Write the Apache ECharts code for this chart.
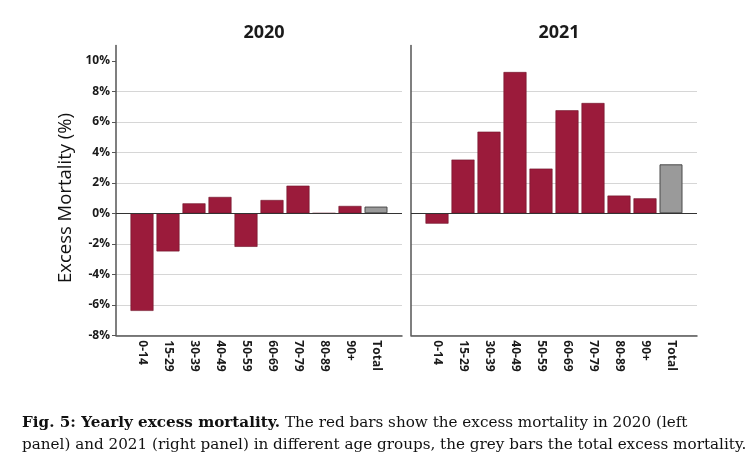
<!DOCTYPE html>
<html>
<head>
<meta charset="utf-8">
<script src="https://cdn.jsdelivr.net/npm/echarts@6/dist/echarts.min.js"></script>
<style>
html,body{margin:0;padding:0;background:#fff;}
#chart{width:746px;height:462px;}
</style>
</head>
<body>
<div id="chart"></div>
<script>
// ---- data ----
var ageGroups = ['0-14', '15-29', '30-39', '40-49', '50-59', '60-69', '70-79', '80-89', '90+', 'Total'];
var excess2020 = [-6.4, -2.5, 0.65, 1.07, -2.2, 0.87, 1.81, 0.0, 0.48, 0.44];
var excess2021 = [-0.68, 3.52, 5.35, 9.26, 2.93, 6.75, 7.23, 1.16, 0.98, 3.21];
var panelTitles = ['2020', '2021'];
var yTicks = [-8, -6, -4, -2, 0, 2, 4, 6, 8, 10];
var yAxisTitle = 'Excess Mortality (%)';
var captionBold = 'Fig. 5: Yearly excess mortality.';
var captionLine1 = ' The red bars show the excess mortality in 2020 (left';
var captionLine2 = 'panel) and 2021 (right panel) in different age groups, the grey bars the total excess mortality.';

// ---- build ----
var RED = '#9b1b3b', GREY = '#9a9a9a';
var cats = [''].concat(ageGroups).concat(['']);
function seriesData(vals) {
  var d = [null];
  vals.forEach(function (v, i) {
    if (ageGroups[i] === 'Total') {
      d.push({ value: v, itemStyle: { color: GREY, borderColor: '#4a4a4a', borderWidth: 1 } });
    } else {
      d.push(v);
    }
  });
  d.push(null);
  return d;
}
var FONT = '"Open Sans", "Noto Sans", sans-serif';
var CAPFONT = '"DejaVu Serif", serif';
var CAPSIZE = 15.2;
var gridTop = 45.5, gridBottom = 462 - 335.3;
var grids = [
  { left: 116, width: 286, top: gridTop, bottom: gridBottom },
  { left: 411, width: 286, top: gridTop, bottom: gridBottom }
];
var xAxes = [0, 1].map(function (i) {
  return {
    type: 'category', gridIndex: i, data: cats, boundaryGap: false,
    axisLine: { onZero: false, lineStyle: { color: '#555', width: 1.5 } },
    axisTick: { show: false },
    axisLabel: { interval: 0, rotate: -90, margin: 5, color: '#1a1a1a', fontFamily: FONT, fontWeight: 'bold', fontSize: 12 },
    splitLine: { show: false }
  };
});
var yAxes = [0, 1].map(function (i) {
  return {
    type: 'value', gridIndex: i, min: -8, max: 11, interval: 2,
    axisLine: { show: true, lineStyle: { color: '#555', width: 1.5 } },
    axisTick: { show: i === 0, length: 4, lineStyle: { color: '#555' }, customValues: yTicks },
    axisLabel: {
      show: i === 0, margin: 6, color: '#1a1a1a', fontFamily: FONT, fontWeight: 'bold', fontSize: 12,
      customValues: yTicks,
      formatter: function (v) { return v + '%'; }
    },
    splitLine: { show: true, showMaxLine: false, lineStyle: { color: '#d6d6d6', width: 1 } }
  };
});
var series = [excess2020, excess2021].map(function (vals, i) {
  return {
    type: 'bar', xAxisIndex: i, yAxisIndex: i, data: seriesData(vals), barWidth: 23,
    itemStyle: { color: RED, borderColor: '#6e1229', borderWidth: 0.6 },
    silent: true,
    markLine: {
      silent: true, symbol: ['none', 'none'], label: { show: false },
      lineStyle: { color: '#333', type: 'solid', width: 1.2 },
      data: [{ yAxis: 0 }]
    }
  };
});
var option = {
  animation: false,
  backgroundColor: '#fff',
  title: [
    { text: panelTitles[0], left: 259, top: 19, textAlign: 'center', textStyle: { fontFamily: FONT, fontWeight: 'bold', fontSize: 18, color: '#1a1a1a' } },
    { text: panelTitles[1], left: 554, top: 19, textAlign: 'center', textStyle: { fontFamily: FONT, fontWeight: 'bold', fontSize: 18, color: '#1a1a1a' } }
  ],
  grid: grids,
  xAxis: xAxes,
  yAxis: yAxes,
  series: series,
  graphic: [
    {
      type: 'text', x: 66, y: 198, rotation: Math.PI / 2,
      style: { text: yAxisTitle, font: '18.5px ' + FONT, fill: '#111', align: 'center', verticalAlign: 'middle' }
    },
    {
      type: 'text', x: 22, y: 423,
      style: {
        text: '{b|' + captionBold + '}' + captionLine1,
        font: CAPSIZE + 'px ' + CAPFONT, fill: '#111', verticalAlign: 'middle',
        rich: { b: { font: 'bold ' + CAPSIZE + 'px ' + CAPFONT, fill: '#111' } }
      }
    },
    {
      type: 'text', x: 22, y: 445,
      style: { text: captionLine2, font: CAPSIZE + 'px ' + CAPFONT, fill: '#111', verticalAlign: 'middle' }
    }
  ]
};
var chart = echarts.init(document.getElementById('chart'), null, { renderer: 'canvas' });
chart.setOption(option);
</script>
</body>
</html>
